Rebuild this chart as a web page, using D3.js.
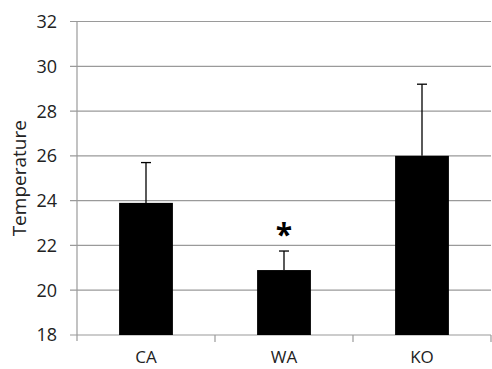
<!DOCTYPE html>
<html><head><meta charset="utf-8">
<script src="https://cdn.jsdelivr.net/npm/d3@7"></script>
<style>body{margin:0;background:#fff}text{font-family:"Open Sans",sans-serif}</style>
</head><body>
<svg id="c" width="492" height="369"></svg>
<script>
const categories = ["CA", "WA", "KO"];
const means = [23.9, 20.9, 26.0];
const errors = [1.8, 0.85, 3.2];
const significant = [false, true, false];
const yTicks = [18, 20, 22, 24, 26, 28, 30, 32];

const svg = d3.select("#c");
const L = 77, R = 491, T = 21.5, B = 335;
const x = d3.scaleBand().domain(categories).range([L, R]).paddingInner(0.61).paddingOuter(0.305);
const xb = d3.scaleBand().domain(categories).range([L, R]);
const y = d3.scaleLinear().domain([18, 32]).range([B, T]);
const grid = "#9a9a9a";

// gridlines
svg.append("g").selectAll("line").data(yTicks).join("line")
  .attr("x1", L - 7).attr("x2", R).attr("y1", d => y(d)).attr("y2", d => y(d))
  .attr("stroke", grid).attr("stroke-width", 1.2);
// y axis line
svg.append("line").attr("x1", L).attr("x2", L).attr("y1", T).attr("y2", B + 6)
  .attr("stroke", grid).attr("stroke-width", 1.2);
// x tick marks
svg.append("g").selectAll("line").data(categories).join("line")
  .attr("x1", (d, i) => L + xb.step() * (i + 1)).attr("x2", (d, i) => L + xb.step() * (i + 1))
  .attr("y1", B).attr("y2", B + 7).attr("stroke", grid).attr("stroke-width", 1.2);

// y tick labels
svg.append("g").selectAll("text").data(yTicks).join("text")
  .attr("x", 57).attr("y", d => y(d)).attr("dy", "0.36em").attr("text-anchor", "end")
  .attr("font-size", 18).attr("fill", "#222").text(d => d);

// x labels
svg.append("g").selectAll("text").data(categories).join("text")
  .attr("x", d => x(d) + x.bandwidth() / 2).attr("y", 363).attr("text-anchor", "middle")
  .attr("font-size", 17).attr("fill", "#222").text(d => d);

// y title
svg.append("text").attr("transform", `translate(26,${(T + B) / 2}) rotate(-90)`)
  .attr("text-anchor", "middle").attr("font-size", 19).attr("fill", "#222").text("Temperature");

// error bars
const eg = svg.append("g");
categories.forEach((c, i) => {
  const cx = x(c) + x.bandwidth() / 2;
  eg.append("line").attr("x1", cx).attr("x2", cx).attr("y1", y(means[i])).attr("y2", y(means[i] + errors[i]))
    .attr("stroke", "#000").attr("stroke-width", 1.3);
  eg.append("line").attr("x1", cx - 5).attr("x2", cx + 5).attr("y1", y(means[i] + errors[i])).attr("y2", y(means[i] + errors[i]))
    .attr("stroke", "#000").attr("stroke-width", 1.3);
});

// bars
svg.append("g").selectAll("rect").data(categories).join("rect")
  .attr("x", d => x(d)).attr("width", x.bandwidth())
  .attr("y", (d, i) => y(means[i])).attr("height", (d, i) => B - y(means[i]))
  .attr("fill", "#000");

// significance
svg.append("g").selectAll("text").data(categories.filter((c, i) => significant[i])).join("text")
  .attr("x", d => x(d) + x.bandwidth() / 2).attr("y", d => y(means[categories.indexOf(d)] + errors[categories.indexOf(d)]) - 6)
  .attr("text-anchor", "middle").attr("font-size", 30).attr("font-weight", "bold").attr("fill", "#000").text("*");
</script>
</body></html>
